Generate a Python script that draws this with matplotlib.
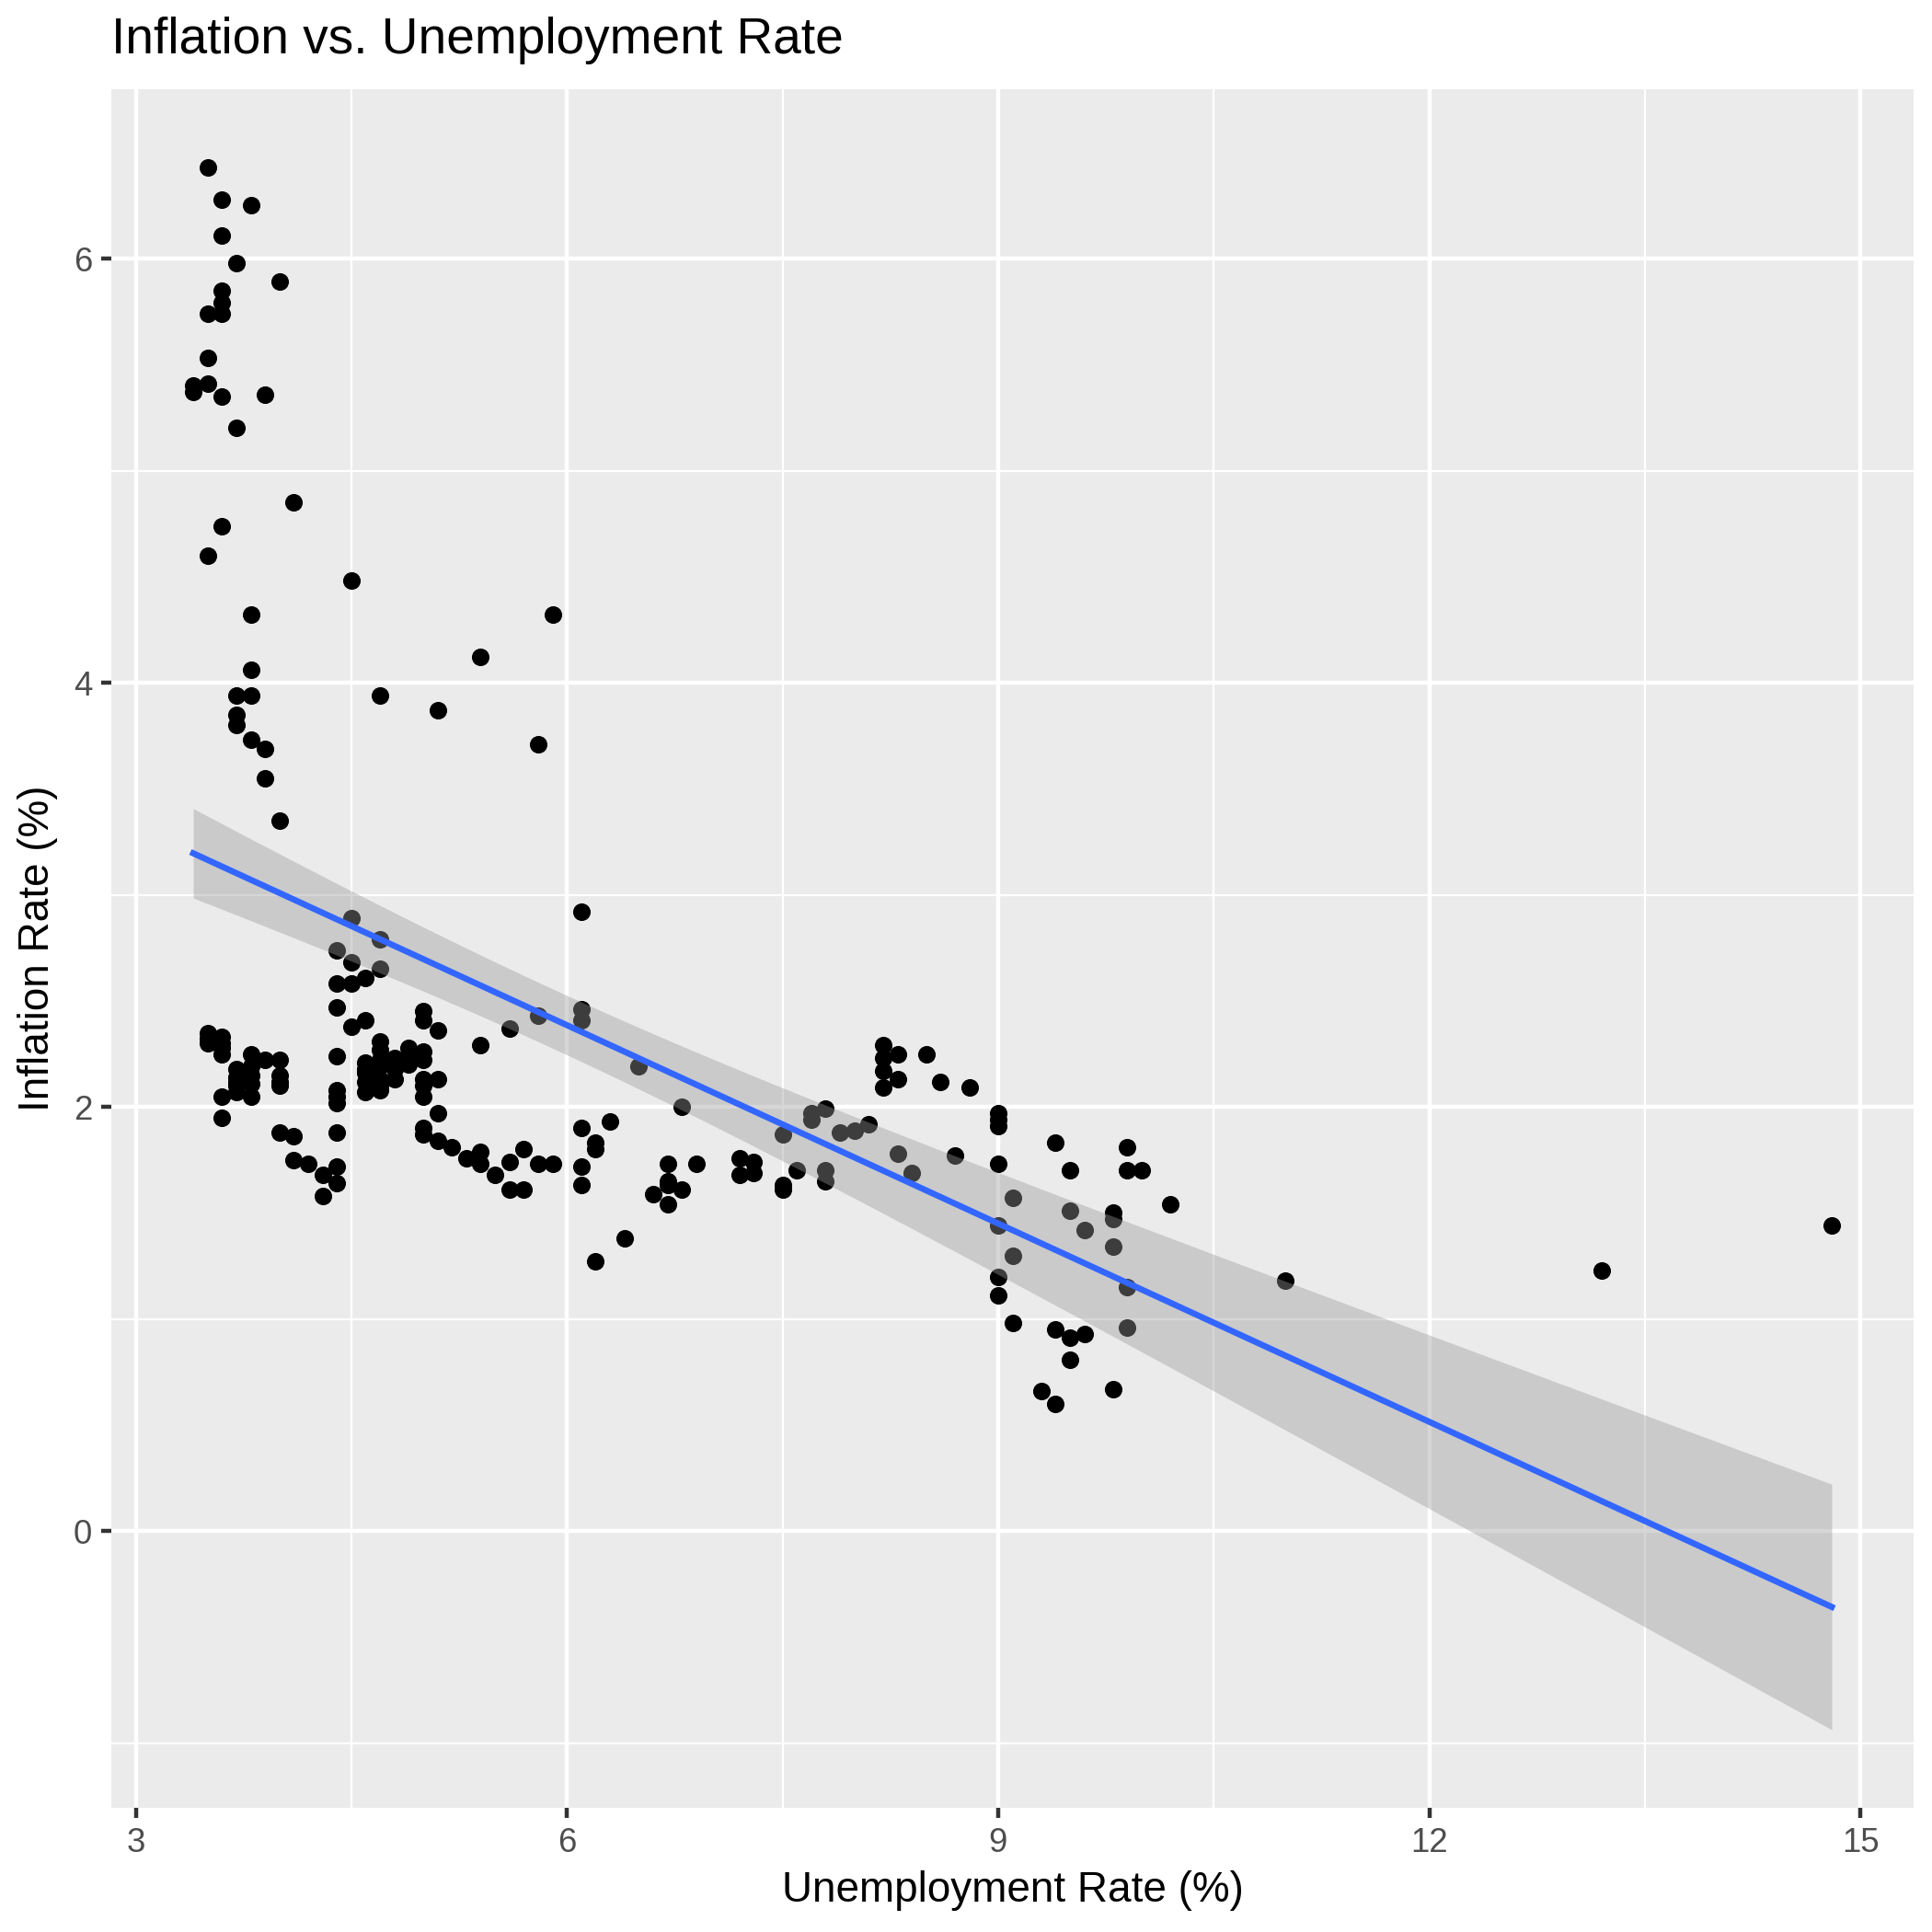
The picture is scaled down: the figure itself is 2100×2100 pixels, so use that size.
import numpy as np
import matplotlib
matplotlib.use("Agg")
import matplotlib.pyplot as plt

plt.rcParams['font.family'] = ['Liberation Sans', 'DejaVu Sans']

# unemployment rate (%) and inflation rate (%)
# (the last rows are points hidden under the dense clusters)
unemployment = [
    3.5, 3.6, 3.8, 3.6, 3.7, 4.0, 3.6, 3.6, 3.5, 3.6,
    3.5, 3.4, 3.4, 3.5, 3.6, 3.9, 3.7, 4.1, 3.6, 3.5,
    4.5, 3.8, 5.9, 5.4, 3.8, 3.7, 3.8, 4.7, 5.1, 3.7,
    3.7, 3.8, 3.9, 5.8, 3.9, 4.0, 6.1, 4.5, 4.7, 4.4,
    4.5, 4.7, 4.6, 4.4, 4.5, 4.4, 4.6, 4.5, 3.5, 3.5,
    3.6, 3.6, 3.6, 3.8, 3.9, 4.0, 3.7, 3.7, 3.8, 3.8,
    3.7, 3.8, 4.0, 4.0, 3.6, 3.6, 4.4, 4.4, 4.4, 4.4,
    4.0, 4.1, 4.1, 4.2, 4.3, 4.3, 4.4, 4.4, 5.0, 5.0,
    5.1, 5.4, 5.6, 5.8, 4.7, 4.7, 4.6, 4.6, 4.7, 4.8,
    4.9, 4.9, 5.0, 4.8, 4.7, 4.6, 4.7, 5.0, 5.1, 5.0,
    5.1, 5.0, 5.0, 5.1, 5.2, 5.3, 5.4, 5.4, 5.5, 5.6,
    5.7, 5.6, 5.7, 5.8, 5.9, 6.1, 6.1, 6.5, 6.8, 6.1,
    6.3, 6.2, 6.2, 6.1, 6.1, 6.7, 6.7, 6.7, 6.6, 6.8,
    6.7, 6.9, 6.4, 6.2, 7.2, 7.3, 7.2, 7.3, 7.5, 7.5,
    7.5, 7.6, 7.7, 7.7, 7.8, 7.9, 8.0, 8.1, 7.8, 7.8,
    8.2, 8.2, 8.2, 8.2, 8.3, 8.3, 8.5, 8.6, 8.8, 8.3,
    8.4, 8.7, 9.0, 9.0, 9.0, 9.0, 9.4, 9.9, 9.5, 9.9,
    10.0, 9.1, 10.2, 9.5, 9.8, 9.8, 9.6, 9.0, 9.8, 9.1,
    9.0, 9.0, 9.9, 9.1, 9.4, 9.5, 9.6, 9.9, 9.5, 9.3,
    9.4, 9.8, 11.0, 13.2, 14.8,
    3.7, 3.8, 3.6, 3.5, 4.6, 4.7, 4.7, 4.8, 4.9, 5.0,
    4.6, 5.0, 4.4, 4.0, 3.7,
]
inflation = [
    6.43, 6.28, 6.25, 6.11, 5.98, 5.89, 5.85, 5.79, 5.74, 5.74,
    5.53, 5.40, 5.37, 5.41, 5.35, 5.36, 5.20, 4.85, 4.74, 4.60,
    4.48, 4.32, 4.32, 4.12, 4.06, 3.94, 3.94, 3.94, 3.87, 3.85,
    3.80, 3.73, 3.69, 3.71, 3.55, 3.35, 2.92, 2.89, 2.79, 2.74,
    2.68, 2.65, 2.61, 2.58, 2.58, 2.47, 2.41, 2.38, 2.35, 2.30,
    2.33, 2.30, 2.25, 2.25, 2.22, 2.22, 2.18, 2.14, 2.19, 2.11,
    2.07, 2.05, 2.15, 2.10, 2.05, 1.95, 2.24, 2.08, 2.02, 1.88,
    1.88, 1.86, 1.75, 1.73, 1.68, 1.58, 1.72, 1.64, 2.45, 2.41,
    2.36, 2.29, 2.37, 2.43, 2.31, 2.27, 2.21, 2.16, 2.19, 2.23,
    2.28, 2.20, 2.26, 2.13, 2.13, 2.07, 2.08, 2.13, 2.13, 2.05,
    1.97, 1.90, 1.87, 1.84, 1.81, 1.76, 1.79, 1.73, 1.68, 1.74,
    1.80, 1.61, 1.61, 1.73, 1.73, 2.46, 2.41, 2.19, 2.00, 1.90,
    1.93, 1.83, 1.80, 1.72, 1.63, 1.73, 1.65, 1.63, 1.59, 1.61,
    1.54, 1.73, 1.38, 1.27, 1.76, 1.74, 1.68, 1.69, 1.87, 1.63,
    1.61, 1.70, 1.97, 1.94, 1.99, 1.88, 1.89, 1.92, 1.70, 1.65,
    2.29, 2.23, 2.17, 2.09, 2.25, 2.13, 2.25, 2.12, 2.09, 1.78,
    1.69, 1.77, 1.97, 1.94, 1.91, 1.73, 1.83, 1.81, 1.70, 1.70,
    1.70, 1.57, 1.54, 1.51, 1.50, 1.47, 1.42, 1.44, 1.34, 1.30,
    1.20, 1.11, 1.15, 0.98, 0.95, 0.91, 0.93, 0.96, 0.81, 0.66,
    0.60, 0.67, 1.18, 1.23, 1.44,
    2.12, 2.15, 2.28, 2.32, 2.18, 2.22, 2.10, 2.18, 2.24, 2.22,
    2.12, 2.10, 2.05, 2.12, 2.10,
]

x = np.array(unemployment)
y = np.array(inflation)

# linear fit with 95% confidence band (like geom_smooth(method = "lm"))
n = len(x)
slope, intercept = np.polyfit(x, y, 1)
xs = np.linspace(x.min(), x.max(), 80)
fit = intercept + slope * xs
resid = y - (intercept + slope * x)
s = np.sqrt(np.sum(resid ** 2) / (n - 2))
sxx = np.sum((x - x.mean()) ** 2)
se = s * np.sqrt(1.0 / n + (xs - x.mean()) ** 2 / sxx)
tval = 1.9715  # t(0.975, ~220 df)
lo = fit - tval * se
hi = fit + tval * se

fig = plt.figure(figsize=(7, 7), dpi=300)
ax = fig.add_axes([0.0576, 0.0643, 0.9329, 0.8895])
ax.set_facecolor('#EBEBEB')

ax.scatter(x, y, s=21, color='black', linewidths=0, zorder=3)
ax.fill_between(xs, lo, hi, color='#999999', alpha=0.4, linewidth=0, zorder=4)
ax.plot(xs, fit, color='#3366FF', linewidth=1.6, zorder=5)

xr = x.max() - x.min()
ax.set_xlim(x.min() - 0.05 * xr, x.max() + 0.05 * xr)
ymin = min(y.min(), lo.min())
ymax = max(y.max(), hi.max())
yr = ymax - ymin
ax.set_ylim(ymin - 0.05 * yr, ymax + 0.05 * yr)

ax.set_xticks([3, 6, 9, 12, 15])
ax.set_yticks([0, 2, 4, 6])
ax.set_xticks([4.5, 7.5, 10.5, 13.5], minor=True)
ax.set_yticks([-1, 1, 3, 5], minor=True)
ax.grid(which='major', color='white', linewidth=1.07, zorder=0)
ax.grid(which='minor', color='white', linewidth=0.53, zorder=0)
ax.set_axisbelow(True)
for sp in ax.spines.values():
    sp.set_visible(False)
ax.tick_params(which='major', length=2.75, width=1.07, color='#333333',
               labelsize=8.8, labelcolor='#4D4D4D', pad=2.2)
ax.tick_params(which='minor', length=0)

ax.set_xlabel('Unemployment Rate (%)', fontsize=11, labelpad=3)
ax.set_ylabel('Inflation Rate (%)', fontsize=11, labelpad=4)
fig.text(0.0576, 0.979, 'Inflation vs. Unemployment Rate', fontsize=13.2,
         ha='left', va='center')

fig.savefig('out.png', dpi=300)
